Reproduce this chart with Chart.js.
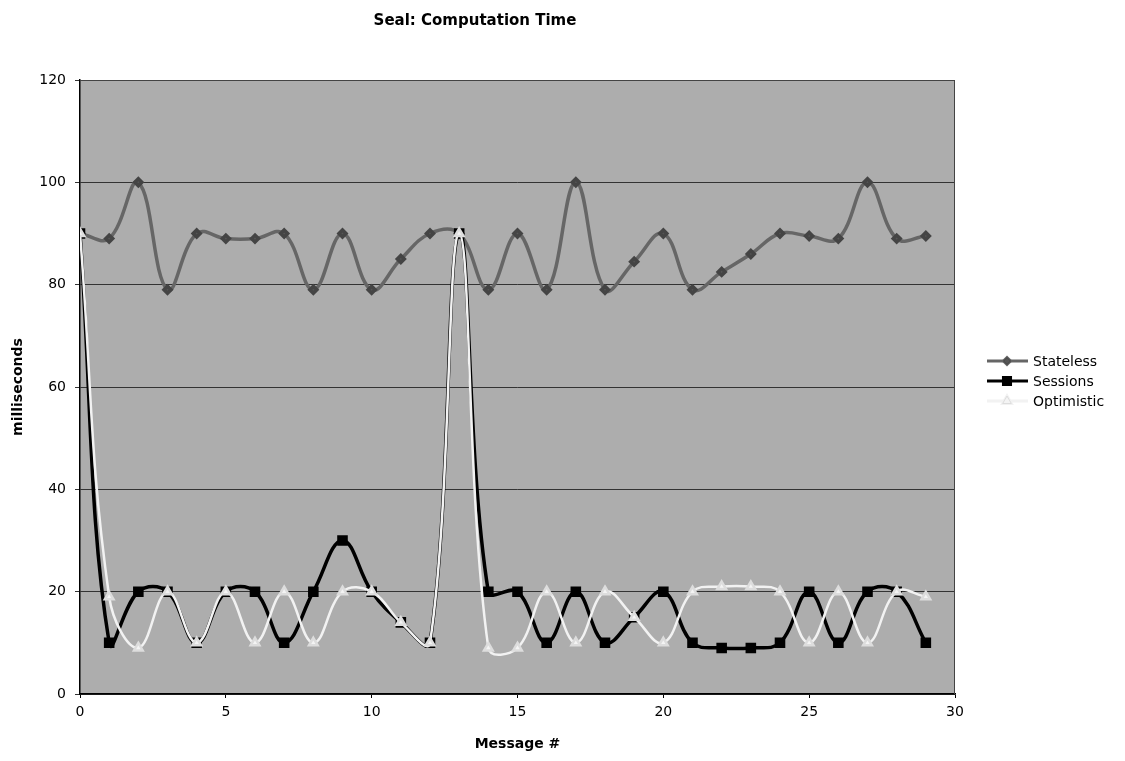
<!DOCTYPE html>
<html>
<head>
<meta charset="utf-8">
<title>Seal: Computation Time</title>
<script src="https://cdn.jsdelivr.net/npm/chart.js@4.4.0/dist/chart.umd.min.js"></script>
<style>
  html, body { margin: 0; padding: 0; background: #fff; }
  #wrap { width: 1125px; height: 761px; position: relative; }
</style>
</head>
<body>
<div id="wrap"><canvas id="sealChart"></canvas></div>
<script>
// -------------------- DATA --------------------
const messages   = [0, 1, 2, 3, 4, 5, 6, 7, 8, 9, 10, 11, 12, 13, 14, 15, 16, 17, 18, 19, 20, 21, 22, 23, 24, 25, 26, 27, 28, 29];
const stateless  = [90, 89, 100, 79, 90, 89, 89, 90, 79, 90, 79, 85, 90, 90, 79, 90, 79, 100, 79, 84.5, 90, 79, 82.5, 86, 90, 89.5, 89, 100, 89, 89.5];
const sessions   = [90, 10, 20, 20, 10, 20, 20, 10, 20, 30, 20, 14, 10, 90, 20, 20, 10, 20, 10, 15, 20, 10, 9, 9, 10, 20, 10, 20, 20, 10];
const optimistic = [90, 19, 9, 20, 10, 20, 10, 20, 10, 20, 20, 14, 10, 90, 9, 9, 20, 10, 20, 15, 10, 20, 21, 21, 20, 10, 20, 10, 20, 19];
const seriesNames = ["Stateless", "Sessions", "Optimistic"];
const xTicks = [0, 5, 10, 15, 20, 25, 30];
const yTicks = [0, 20, 40, 60, 80, 100, 120];

const FONT = "'DejaVu Sans', Verdana, sans-serif";

function points(values) {
  return messages.map((m, i) => ({ x: m, y: values[i] }));
}

// -------------------- PLUGIN: plot area, title, legend --------------------
const frame = {
  id: "frame",
  beforeDraw(chart) {
    const { ctx, chartArea: a } = chart;
    ctx.save();
    ctx.fillStyle = "#adadad";
    ctx.fillRect(a.left, a.top, a.right - a.left, a.bottom - a.top);
    ctx.restore();
  },
  afterDraw(chart) {
    const { ctx, chartArea: a } = chart;
    ctx.save();
    // frame
    ctx.strokeStyle = "#444";
    ctx.lineWidth = 1;
    ctx.beginPath();
    ctx.moveTo(a.left, a.top + 0.5);
    ctx.lineTo(a.right - 0.5, a.top + 0.5);
    ctx.lineTo(a.right - 0.5, a.bottom);
    ctx.stroke();

    // title
    ctx.fillStyle = "#000";
    ctx.font = "bold 15px " + FONT;
    ctx.textAlign = "center";
    ctx.textBaseline = "middle";
    ctx.fillText("Seal: Computation Time", 475, 21);

    // legend
    ctx.font = "14px " + FONT;
    ctx.textAlign = "left";
    chart.data.datasets.forEach((ds, i) => {
      const y = 361 + i * 20;
      ctx.strokeStyle = ds.borderColor;
      ctx.lineWidth = 3;
      ctx.beginPath();
      ctx.moveTo(987, y);
      ctx.lineTo(1028, y);
      ctx.stroke();
      Chart.helpers.drawPoint(ctx, {
        pointStyle: ds.pointStyle,
        radius: ds.pointRadius,
        borderWidth: 1,
        rotation: 0
      }, 1007, y);
      ctx.fillStyle = ds.pointBackgroundColor;
      ctx.strokeStyle = ds.pointBorderColor;
      ctx.lineWidth = 1;
      ctx.fill();
      ctx.stroke();
      ctx.fillStyle = "#000";
      ctx.fillText(ds.label, 1033, y + 1);
    });
    ctx.restore();
  }
};

// -------------------- CHART --------------------
const ctx = document.getElementById("sealChart").getContext("2d");

new Chart(ctx, {
  type: "line",
  data: {
    datasets: [
      {
        label: seriesNames[0],
        data: points(stateless),
        borderColor: "#666666",
        borderWidth: 3.5,
        pointStyle: "rectRot",
        pointRadius: 3.5,
        pointBackgroundColor: "#555555",
        pointBorderColor: "#444444",
        tension: 0.4,
        order: 2
      },
      {
        label: seriesNames[1],
        data: points(sessions),
        borderColor: "#000000",
        borderWidth: 3.5,
        pointStyle: "rect",
        pointRadius: 5,
        pointBackgroundColor: "#000000",
        pointBorderColor: "#000000",
        tension: 0.4,
        order: 1
      },
      {
        label: seriesNames[2],
        data: points(optimistic),
        borderColor: "#f2f2f2",
        borderWidth: 2.5,
        pointStyle: "triangle",
        pointRadius: 5,
        pointBackgroundColor: "#f4f4f4",
        pointBorderColor: "#dddddd",
        tension: 0.4,
        order: 0
      }
    ]
  },
  options: {
    responsive: true,
    maintainAspectRatio: false,
    animation: false,
    layout: { padding: { top: 80, right: 170, left: 0, bottom: 0 } },
    plugins: {
      legend: { display: false },
      tooltip: { enabled: false }
    },
    scales: {
      x: {
        type: "linear",
        min: 0,
        max: 30,
        afterBuildTicks: (s) => { s.ticks = xTicks.map(v => ({ value: v })); },
        afterFit: (s) => { s.height = 67; },
        grid: { display: true, drawOnChartArea: false, tickLength: 4, color: "#000" },
        border: { color: "#000", width: 1.5 },
        ticks: { color: "#000", font: { family: FONT, size: 14 }, padding: 6, maxRotation: 0 },
        title: { display: true, text: "Message #", color: "#000", font: { family: FONT, size: 14, weight: "bold" }, padding: { bottom: 8 } }
      },
      y: {
        min: 0,
        max: 120,
        afterBuildTicks: (s) => { s.ticks = yTicks.map(v => ({ value: v })); },
        afterFit: (s) => { s.width = 80; },
        grid: { color: "#333", lineWidth: 1, tickLength: 5 },
        border: { color: "#000", width: 1.5 },
        ticks: { color: "#000", font: { family: FONT, size: 14 }, padding: 9 },
        title: { display: true, text: "milliseconds", color: "#000", font: { family: FONT, size: 14, weight: "bold" }, padding: { top: 10 } }
      }
    }
  },
  plugins: [frame]
});
</script>
</body>
</html>
